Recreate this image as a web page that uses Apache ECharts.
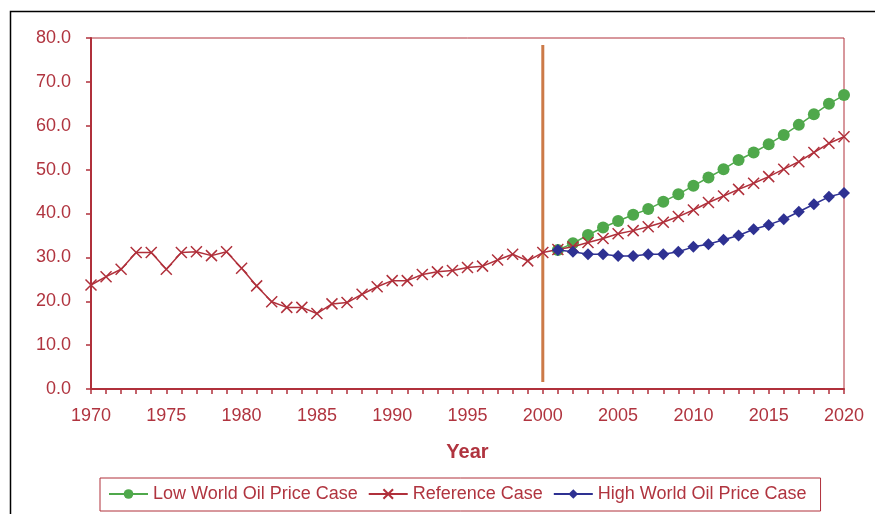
<!DOCTYPE html>
<html>
<head>
    <meta charset="utf-8">
    <title>World Oil Price Cases</title>
    <script src="https://cdn.jsdelivr.net/npm/echarts@6/dist/echarts.min.js"></script>
    <style>
        html, body { margin: 0; padding: 0; background: #fff; }
        #main { width: 875px; height: 514px; }
    </style>
</head>
<body>
<div id="main"></div>
<script type="text/javascript">
    // years and series values
    var refYears = [];
    for (var y = 1970; y <= 2020; y++) refYears.push(y);
    var refValues = [
        23.7, 25.6, 27.3, 31.1, 31.1, 27.3, 31.1, 31.3, 30.4, 31.3,
        27.5, 23.5, 19.9, 18.6, 18.6, 17.2, 19.4, 19.7, 21.6, 23.3,
        24.7, 24.7, 26.1, 26.7, 27.0, 27.7, 28.0, 29.4, 30.7, 29.2,
        31.1, 31.8, 32.4, 33.4, 34.3, 35.4, 36.1, 37.0, 38.0, 39.3,
        40.8, 42.5, 44.0, 45.5, 46.9, 48.4, 50.1, 51.8, 53.9, 56.0,
        57.5
    ];
    var caseYears = [];
    for (var y2 = 2001; y2 <= 2020; y2++) caseYears.push(y2);
    var lowValues = [
        31.7, 33.2, 35.1, 36.8, 38.3, 39.7, 41.0, 42.7, 44.4, 46.3,
        48.2, 50.1, 52.2, 53.9, 55.8, 57.9, 60.2, 62.6, 65.0, 67.0
    ];
    var highValues = [
        31.7, 31.3, 30.7, 30.7, 30.3, 30.3, 30.7, 30.7, 31.3, 32.4,
        33.0, 34.0, 35.0, 36.4, 37.4, 38.7, 40.4, 42.1, 43.8, 44.7
    ];
    // vertical divider at 2000
    var dividerX = [2000, 2000];
    var dividerY = [1.6, 78.4];

    function pairs(xs, ys) {
        var out = [];
        for (var i = 0; i < xs.length; i++) out.push([xs[i], ys[i]]);
        return out;
    }

    var red = '#b0303b';
    var txt = '#b0343f';
    var font = 'Liberation Sans, Arial, sans-serif';
    var cross = 'path://M0,0L10,10M10,0L0,10';

    var myChart = echarts.init(document.getElementById('main'));

    var option = {
        animation: false,
        textStyle: { fontFamily: font },
        graphic: [{
            type: 'rect',
            shape: { x: 10.5, y: 11.5, width: 900, height: 600 },
            style: { fill: 'none', stroke: '#000', lineWidth: 1.5 },
            silent: true
        }],
        grid: {
            left: 91, right: 31, top: 38, bottom: 125,
            show: true,
            borderColor: red,
            borderWidth: 1
        },
        legend: {
            data: ['Low World Oil Price Case', 'Reference Case', 'High World Oil Price Case'],
            left: 100,
            top: 478,
            padding: [7, 14, 8, 8],
            itemWidth: 39,
            itemHeight: 12,
            itemGap: 10,
            borderColor: red,
            borderWidth: 1,
            textStyle: { color: txt, fontSize: 18, fontFamily: font }
        },
        xAxis: {
            type: 'value',
            min: 1970,
            max: 2020,
            interval: 5,
            name: 'Year',
            nameLocation: 'middle',
            nameGap: 53,
            nameTextStyle: { color: txt, fontSize: 20, fontWeight: 'bold', fontFamily: font },
            axisLine: { lineStyle: { color: red, width: 2 } },
            axisTick: { show: true, length: 5, lineStyle: { color: red, width: 1.5 } },
            minorTick: { show: true, splitNumber: 5, length: 5, lineStyle: { color: red, width: 1.5 } },
            axisLabel: {
                color: txt, fontSize: 18, margin: 18, fontFamily: font,
                formatter: function (v) { return String(v); }
            },
            splitLine: { show: false }
        },
        yAxis: {
            type: 'value',
            min: 0,
            max: 80,
            interval: 10,
            axisLine: { show: true, lineStyle: { color: red, width: 2 } },
            axisTick: { show: true, length: 5, lineStyle: { color: red, width: 1.5 } },
            axisLabel: {
                color: txt, fontSize: 18, margin: 20, fontFamily: font,
                formatter: function (v) { return v.toFixed(1); }
            },
            splitLine: { show: false }
        },
        series: [
            {
                name: 'Divider',
                type: 'line',
                data: pairs(dividerX, dividerY),
                symbol: 'none',
                silent: true,
                lineStyle: { color: '#cc7a48', width: 3 },
                z: 1
            },
            {
                name: 'Reference Case',
                type: 'line',
                data: pairs(refYears, refValues),
                symbol: cross,
                symbolSize: 11,
                lineStyle: { color: red, width: 1.5 },
                itemStyle: { color: red, borderColor: red, borderWidth: 1.5 },
                z: 3
            },
            {
                name: 'Low World Oil Price Case',
                type: 'line',
                data: pairs(caseYears, lowValues),
                symbol: 'circle',
                symbolSize: 12,
                lineStyle: { color: '#4fa84b', width: 1.5 },
                itemStyle: { color: '#4fa84b' },
                z: 2
            },
            {
                name: 'High World Oil Price Case',
                type: 'line',
                data: pairs(caseYears, highValues),
                symbol: 'diamond',
                symbolSize: 12,
                lineStyle: { color: '#2e3192', width: 1.5 },
                itemStyle: { color: '#2e3192' },
                z: 4
            }
        ]
    };

    myChart.setOption(option);
</script>
</body>
</html>
